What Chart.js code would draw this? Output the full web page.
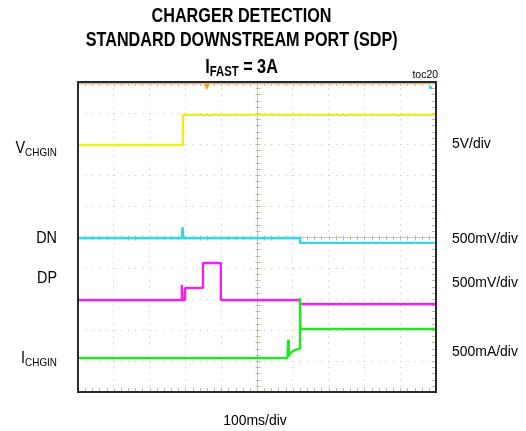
<!DOCTYPE html>
<html>
<head>
<meta charset="utf-8">
<script src="https://cdn.jsdelivr.net/npm/chart.js@4"></script>
<style>
  body { margin: 0; background: #fff; }
  #wrap { width: 526px; height: 431px; }
</style>
</head>
<body>
<div id="wrap"><canvas id="scope" width="526" height="431"></canvas></div>
<script>
// time in ms (100ms/div), level in screen divisions (0 = bottom, 10 = top)
const vchginT = [0, 293, 293, 1000];
const vchginV = [7.97, 7.97, 8.94, 8.94];
const dnT = [0, 290, 292, 294, 620, 620, 1000];
const dnV = [4.97, 4.97, 5.32, 4.97, 4.97, 4.81, 4.81];
const dpT = [0, 288, 290, 292, 299, 299, 349, 349, 399, 399, 620, 620, 1000];
const dpV = [2.97, 2.97, 3.45, 2.97, 2.97, 3.36, 3.36, 4.16, 4.16, 2.97, 2.97, 2.84, 2.84];
const ichginT = [0, 585, 587, 589, 592, 605, 620, 620, 621, 1000];
const ichginV = [1.1, 1.1, 1.68, 1.15, 1.25, 1.35, 1.4, 3.03, 2.03, 2.03];

const leftLabels = ["V|CHGIN", "DN", "DP", "I|CHGIN"];
const rightLabels = ["5V/div", "500mV/div", "500mV/div", "500mA/div"];
const timeLabel = "100ms/div";
const triggerMs = 360;

function pts(t, v) { return t.map((x, i) => ({ x: x, y: v[i] })); }

const FONT = '"Liberation Sans", Arial, sans-serif';

// draws a row of text pieces (with subscripts), condensed horizontally by sx
function rich(ctx, parts, x, y, align, sx, bold) {
    let w = 0;
    parts.forEach(p => {
        ctx.font = (bold ? 'bold ' : '') + p[1] + 'px ' + FONT;
        p.w = ctx.measureText(p[0]).width * sx;
        w += p.w;
    });
    let cx = align === 'center' ? x - w / 2 : align === 'right' ? x - w : x;
    parts.forEach(p => {
        ctx.save();
        ctx.font = (bold ? 'bold ' : '') + p[1] + 'px ' + FONT;
        ctx.textAlign = 'left';
        ctx.textBaseline = 'alphabetic';
        ctx.fillStyle = '#000';
        ctx.translate(cx, y + (p[2] || 0));
        ctx.scale(sx, 1);
        ctx.fillText(p[0], 0, 0);
        ctx.restore();
        cx += p.w;
    });
}

function label(s, size, subSize) {
    const bits = s.split('|');
    if (bits.length === 1) return [[s, size]];
    return [[bits[0], size], [bits[1], subSize, 3]];
}

const scopeFrame = {
    id: 'scopeFrame',
    beforeDatasetsDraw(chart) {
        const { ctx, chartArea: a, scales: { x, y } } = chart;
        ctx.save();
        ctx.strokeStyle = '#d2c4a8';
        ctx.lineWidth = 1;
        const cx = Math.round(x.getPixelForValue(500)) + 0.5;
        const cy = Math.round(y.getPixelForValue(5)) + 0.5;
        ctx.beginPath();
        ctx.moveTo(cx, a.top); ctx.lineTo(cx, a.bottom);
        ctx.moveTo(a.left, cy); ctx.lineTo(a.right, cy);
        ctx.stroke();
        // minor ticks
        ctx.strokeStyle = '#c2b7a2';
        ctx.beginPath();
        for (let t = 20; t < 1000; t += 20) {
            const px = Math.round(x.getPixelForValue(t)) + 0.5;
            ctx.moveTo(px, a.top); ctx.lineTo(px, a.top + 4);
            ctx.moveTo(px, a.bottom); ctx.lineTo(px, a.bottom - 4);
            ctx.moveTo(px, cy - 2); ctx.lineTo(px, cy + 3);
        }
        for (let d = 0.2; d < 10; d += 0.2) {
            const py = Math.round(y.getPixelForValue(d)) + 0.5;
            ctx.moveTo(a.right, py); ctx.lineTo(a.right - 4, py);
            ctx.moveTo(cx - 2, py); ctx.lineTo(cx + 3, py);
        }
        ctx.stroke();
        ctx.restore();
    },
    afterDraw(chart) {
        const { ctx, chartArea: a, scales: { x, y } } = chart;
        ctx.save();
        // frame
        ctx.strokeStyle = '#e6bb80';
        ctx.lineWidth = 2;
        ctx.beginPath();
        ctx.moveTo(a.left, a.top + 1.5); ctx.lineTo(a.right, a.top + 1.5);
        ctx.stroke();
        ctx.strokeStyle = '#2a2a2a';
        ctx.lineWidth = 2;
        ctx.strokeRect(a.left, a.top, a.right - a.left, a.bottom - a.top);
        // trigger position marker
        const tx = x.getPixelForValue(triggerMs);
        ctx.fillStyle = '#f0a020';
        ctx.beginPath();
        ctx.moveTo(tx - 3, a.top + 2); ctx.lineTo(tx + 3, a.top + 2); ctx.lineTo(tx, a.top + 8);
        ctx.closePath(); ctx.fill();
        ctx.fillStyle = '#30d8f0';
        ctx.fillRect(a.right - 7, a.top + 4, 3, 3);
        ctx.restore();

        // titles
        rich(ctx, [['CHARGER DETECTION', 20]], 241.5, 21.7, 'center', 0.81, true);
        rich(ctx, [['STANDARD DOWNSTREAM PORT (SDP)', 20]], 241.7, 46, 'center', 0.81, true);
        rich(ctx, [['I', 20], ['FAST', 14, 3], [' = 3A', 20]], 241.5, 73, 'center', 0.81, true);
        rich(ctx, [['toc20', 11]], 438, 78, 'right', 0.95, false);

        // channel labels at each trace's level
        const leftY = [153, 242.5, 283, 363];
        leftLabels.forEach((s, i) => rich(ctx, label(s, 16, 11), 57, leftY[i], 'right', 0.9, false));
        const rightY = [148, 242.5, 286.7, 356];
        rightLabels.forEach((s, i) => rich(ctx, [[s, 15.5]], 452, rightY[i], 'left', 0.9, false));
        rich(ctx, [[timeLabel, 15.5]], 255, 425, 'center', 0.9, false);
    }
};

function trace(name, t, v, color) {
    return {
        label: name, data: pts(t, v), borderColor: color, borderWidth: 2.4,
        borderJoinStyle: 'bevel', pointRadius: 0, tension: 0, fill: false
    };
}

new Chart(document.getElementById('scope'), {
    type: 'line',
    data: {
        datasets: [
            trace('ICHGIN', ichginT, ichginV, '#22e622'),
            trace('DP', dpT, dpV, '#f020f0'),
            trace('DN', dnT, dnV, '#30d8e8'),
            trace('VCHGIN', vchginT, vchginV, '#f0f010')
        ]
    },
    options: {
        responsive: false,
        animation: false,
        layout: { padding: { left: 78, right: 90, top: 82, bottom: 39 } },
        plugins: { legend: { display: false }, tooltip: { enabled: false } },
        scales: {
            x: {
                type: 'linear', min: 0, max: 1000,
                ticks: { display: false, stepSize: 100 },
                grid: { color: '#c8c2b6', drawTicks: false, lineWidth: 1 },
                border: { display: false, dash: [1, 5.2] }
            },
            y: {
                min: 0, max: 10,
                ticks: { display: false, stepSize: 1 },
                grid: { color: '#c8c2b6', drawTicks: false, lineWidth: 1 },
                border: { display: false, dash: [1, 6.16] }
            }
        }
    },
    plugins: [scopeFrame]
});
</script>
</body>
</html>
